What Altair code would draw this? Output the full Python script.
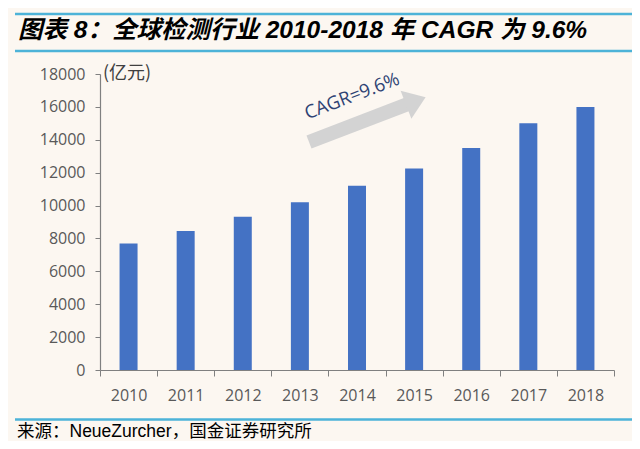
import altair as alt
import pandas as pd

years = ["2010", "2011", "2012", "2013", "2014", "2015", "2016", "2017", "2018"]
values = [7700, 8460, 9320, 10200, 11200, 12250, 13500, 15000, 16000]
y_ticks = [0, 2000, 4000, 6000, 8000, 10000, 12000, 14000, 16000, 18000]

title_text = "图表 8：全球检测行业 2010-2018 年 CAGR 为 9.6%"
unit_text = "(亿元)"
cagr_text = "CAGR=9.6%"
source_text = "来源：NeueZurcher，国金证券研究所"

df = pd.DataFrame({"year": years, "value": values})

W, H = 514, 296
BG = "#FCF7F1"
LINE = "#4DB3D8"
CJK = "Liberation Sans, Noto Sans CJK SC"
AXF = "Open Sans"

bars = alt.Chart(df).mark_bar(color="#4472C4", width=18).encode(
    x=alt.X("year:N", sort=years,
            scale=alt.Scale(paddingInner=0, paddingOuter=0),
            axis=alt.Axis(title=None, labelAngle=0, tickBand="extent",
                          labelFontSize=16, labelFont=AXF, labelColor="#595959",
                          labelPadding=11, tickSize=6, tickColor="#808080",
                          domainColor="#808080", domainWidth=1.2)),
    y=alt.Y("value:Q", scale=alt.Scale(domain=[0, 18000], nice=False),
            axis=alt.Axis(title=None, values=y_ticks, grid=False, format="d",
                          labelFontSize=16, labelFont=AXF, labelColor="#595959",
                          labelPadding=10, tickSize=5, tickColor="#808080",
                          domainColor="#808080", domainWidth=1.2)),
)

one = alt.Data(values=[{"k": 1}])

def hline(y, x1=-85, x2=532):
    return alt.Chart(one).mark_rule(color=LINE, strokeWidth=2.5).encode(
        x=alt.value(x1), x2=alt.value(x2), y=alt.value(y))

top_line = hline(-60)
mid_line = hline(-23)
bot_line = hline(345.5)

title = alt.Chart(one).mark_text(
    align="left", baseline="middle", fontSize=24.5, fontWeight="bold",
    fontStyle="italic", font=CJK, color="#000000"
).encode(x=alt.value(-82), y=alt.value(-43), text=alt.value(title_text))

unit = alt.Chart(one).mark_text(
    align="left", baseline="middle", fontSize=18, font="Noto Sans CJK SC",
    color="#404040"
).encode(x=alt.value(3), y=alt.value(0), text=alt.value(unit_text))

source = alt.Chart(one).mark_text(
    align="left", baseline="middle", fontSize=17.5, font=CJK, color="#000000"
).encode(x=alt.value(-83), y=alt.value(358), text=alt.value(source_text))

shaft = alt.Chart(one).mark_rule(color="#D3D3D3", strokeWidth=14, strokeCap="butt").encode(
    x=alt.value(209), y=alt.value(68), x2=alt.value(307), y2=alt.value(30.4))

head = alt.Chart(one).mark_point(
    shape="M-0.7,-1L0.7,0L-0.7,1Z", filled=True, color="#D3D3D3",
    opacity=1, size=900, angle=339, strokeWidth=0
).encode(x=alt.value(315.8), y=alt.value(27))

cagr = alt.Chart(one).mark_text(
    align="center", baseline="middle", fontSize=18.5, font=AXF,
    color="#2E4374", angle=339
).encode(x=alt.value(252), y=alt.value(22), text=alt.value(cagr_text))

chart = alt.layer(
    top_line, mid_line, bot_line, title, shaft, head, cagr, bars, unit, source
).properties(
    width=W, height=H,
    autosize=alt.AutoSizeParams(type="none"),
    padding={"left": 92, "top": 66, "right": 18, "bottom": 71},
    background=BG,
).configure_view(stroke=None)

chart.save("out.html", embed_options={"renderer": "svg", "actions": False})
